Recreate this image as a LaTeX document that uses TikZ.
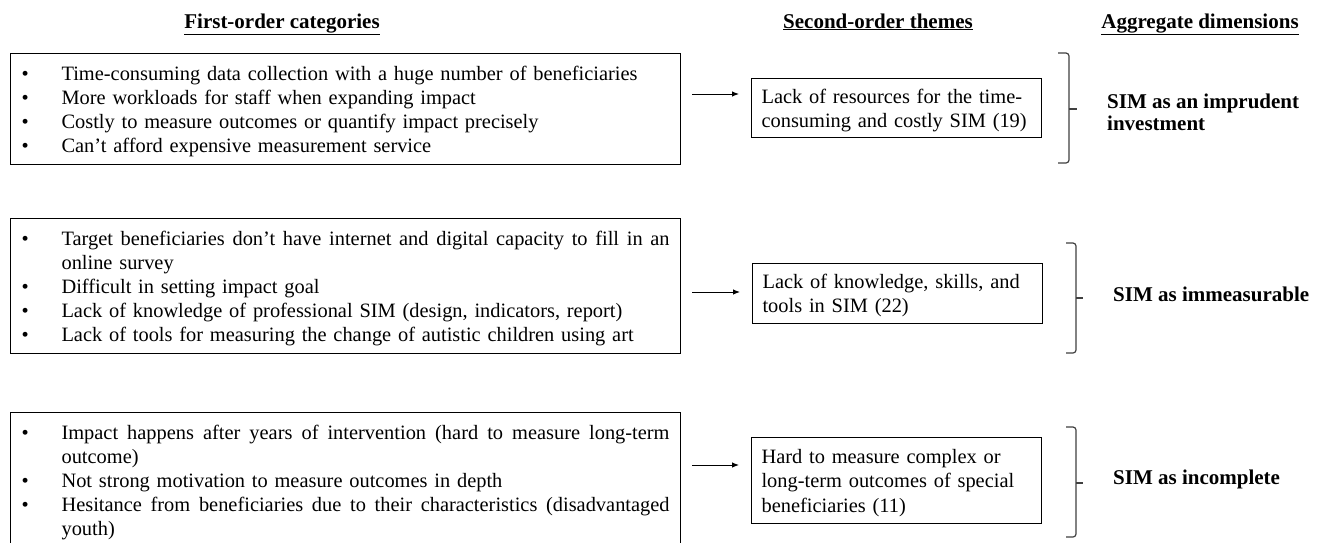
\documentclass[tikz,border=0pt]{standalone}
\usepackage{fontspec}
\setmainfont{Liberation Serif}
\usetikzlibrary{arrows.meta}

% body text size and list helpers
\newcommand{\bodyfont}{\fontsize{20.4pt}{24.15pt}\selectfont}
\newcommand{\headfont}{\fontsize{21pt}{22pt}\selectfont\bfseries}
\newcommand{\firstline}{\rule{0pt}{19pt}}
\newcommand{\bitem}[1]{\makebox[40pt][l]{\textbullet}#1}
% a justified bullet line: spaces stretch again inside the box
\newcommand{\bjust}[1]{\makebox[40pt][l]{\textbullet}%
  \makebox[608pt][s]{\spaceskip=0pt\xspaceskip=0pt #1}}
\newcommand{\bcont}[1]{\hspace*{40pt}#1}

\tikzset{
  head/.style={anchor=base, font=\headfont, inner sep=0pt},
  catbox/.style={draw, line width=1.1pt, anchor=north west, text width=648pt,
    inner xsep=11pt, inner ysep=0pt, align=left, font=\bodyfont},
  themebox/.style={draw, line width=1.1pt, anchor=north west, text width=270pt,
    inner xsep=10pt, inner ysep=0pt, align=left, font=\bodyfont},
  dimlabel/.style={anchor=west, align=left, inner sep=0pt, font=\headfont},
  arr/.style={line width=1pt, -{Latex[length=7pt,width=5.5pt]},
    shorten <=11pt, shorten >=12pt},
  brk/.style={line width=1.2pt, black!75, rounded corners=3pt}
}

\begin{document}
\begin{tikzpicture}[x=1pt, y=-1pt]
\clip (0,0) rectangle (1324,542);
\fill[white] (0,0) rectangle (1324,542);

% column headings
\node[head] (h1) at (282,28) {\underline{First-order categories}};
\node[head] (h2) at (878,28) {\underline{Second-order themes}};
\node[head] (h3) at (1200,28) {\underline{Aggregate dimensions}};

% first-order categories
\node[catbox, minimum height=111pt] (c1) at (10,53) {%
  \firstline\bitem{Time-consuming data collection with a huge number of beneficiaries}\\
  \bitem{More workloads for staff when expanding impact}\\
  \bitem{Costly to measure outcomes or quantify impact precisely}\\
  \bitem{Can’t afford expensive measurement service}};

\node[catbox, minimum height=135pt] (c2) at (10,218) {%
  \firstline\bjust{Target beneficiaries don’t have internet and digital capacity to fill in an}\\
  \bcont{online survey}\\
  \bitem{Difficult in setting impact goal}\\
  \bitem{Lack of knowledge of professional SIM (design, indicators, report)}\\
  \bitem{Lack of tools for measuring the change of autistic children using art}};

\node[catbox, minimum height=135pt] (c3) at (10,412) {%
  \firstline\bjust{Impact happens after years of intervention (hard to measure long-term}\\
  \bcont{outcome)}\\
  \bitem{Not strong motivation to measure outcomes in depth}\\
  \bjust{Hesitance from beneficiaries due to their characteristics (disadvantaged}\\
  \bcont{youth)}};

% second-order themes
\node[themebox, minimum height=59pt] (t1) at (751,78) {%
  \firstline\mbox{Lack of resources for the time-}\\
  \mbox{consuming and costly SIM (19)}};
\node[themebox, minimum height=60pt] (t2) at (752,263) {%
  \firstline\mbox{Lack of knowledge, skills, and}\\
  \mbox{tools in SIM (22)}};
\node[themebox, minimum height=86pt] (t3) at (751,437) {%
  \firstline\mbox{Hard to measure complex or}\\
  \mbox{long-term outcomes of special}\\
  \mbox{beneficiaries (11)}};

% arrows between the columns
\coordinate (r1) at (0,94);
\coordinate (r2) at (0,292);
\coordinate (r3) at (0,465);
\draw[arr] (c1.east |- r1) -- (t1.west |- r1);
\draw[arr] (c2.east |- r2) -- (t2.west |- r2);
\draw[arr] (c3.east |- r3) -- (t3.west |- r3);

% grouping brackets
\draw[brk] (1058,53) -- (1069,53) -- (1069,163) -- (1058,163);
\draw[brk] (1069,109) -- (1077,109);
\draw[brk] (1066,243) -- (1076,243) -- (1076,353) -- (1066,353);
\draw[brk] (1076,298) -- (1083,298);
\draw[brk] (1066,427) -- (1076,427) -- (1076,537) -- (1066,537);
\draw[brk] (1076,483) -- (1083,483);

% aggregate dimensions
\node[dimlabel] (d1) at (1107,112) {SIM as an imprudent\\investment};
\node[dimlabel] (d2) at (1113,294) {SIM as immeasurable};
\node[dimlabel] (d3) at (1113,479) {SIM as incomplete};
\end{tikzpicture}
\end{document}
